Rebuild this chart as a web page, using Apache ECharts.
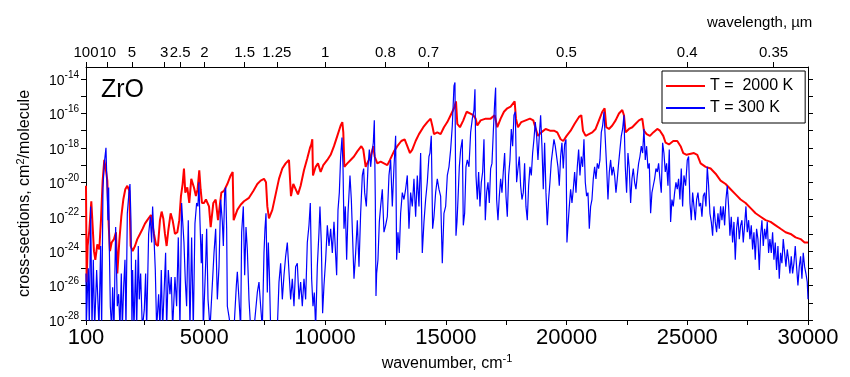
<!DOCTYPE html>
<html>
<head>
<meta charset="utf-8">
<title>ZrO cross-sections</title>
<script src="https://cdn.jsdelivr.net/npm/echarts@6/dist/echarts.min.js"></script>
<style>
  html, body { margin: 0; padding: 0; background: #fff; }
  #chart { width: 850px; height: 377px; }
</style>
</head>
<body>
<div id="chart"></div>
<script>
// wavenumber (cm-1) and log10 of cross-section (cm2/molecule), T = 2000 K
var wn2000 = [100,127,168,237,320,430,486,569,651,720,790,858,927,983,1040,1093,1162,1259,1341,1397,
  1480,1562,1645,1728,1811,1894,1949,2031,2128,2225,2335,2445,2542,2639,2721,2790,2846,2915,2997,3080,
  3163,3232,3301,3370,3439,3508,3605,3687,3784,3881,3963,4032,4101,4157,4212,4295,4377,4460,4516,4571,
  4653,4722,4791,4847,4902,4987,5067,5194,5263,5373,5470,5567,5705,5815,5953,6091,6174,6215,6367,6505,
  6643,6850,7029,7195,7333,7471,7554,7609,7678,7816,7954,8092,8230,8368,8506,8547,8589,8685,8782,8879,
  8989,9127,9265,9375,9431,9472,9500,9610,9707,9817,9927,10094,10232,10370,10508,10646,10715,10756,10798,10922,
  11060,11198,11336,11502,11584,11681,11778,11888,11998,12054,12164,12302,12440,12578,12688,12854,12992,13158,13296,13406,
  13516,13613,13751,13889,14068,14234,14372,14455,14510,14648,14786,14924,15063,15201,15339,15422,15477,15587,15725,15863,
  16001,16139,16236,16305,16443,16650,16857,17023,17133,17271,17409,17547,17685,17851,17906,17989,18127,18307,18486,18624,
  18707,18817,18955,19134,19314,19479,19617,19755,19865,20003,20170,20336,20515,20612,20681,20791,20929,21067,21205,21343,
  21481,21578,21647,21757,21895,22033,22171,22309,22378,22447,22585,22723,22861,22999,23137,23206,23316,23454,23592,23758,
  23868,24006,24103,24241,24420,24586,24724,24834,24972,25277,25415,25553,25760,25967,26174,26381,26588,26795,27002,27209,
  27416,27623,27830,28037,28244,28451,28658,28865,29072,29279,29486,29693,29858,30000];
var lg2000 = [-20.2,-25.8,-23.7,-22.8,-21.1,-24.0,-24.5,-23.6,-23.9,-22.2,-19.9,-18.7,-19.3,-19.9,-22.5,-24.0,-23.5,-23.3,-22.9,-25.3,
  -23.4,-22.0,-21.0,-20.4,-20.2,-20.5,-23.7,-24.0,-23.7,-23.3,-23.0,-22.7,-22.4,-22.2,-22.3,-21.9,-22.4,-23.0,-23.6,-23.7,
  -22.2,-21.7,-22.1,-23.0,-23.7,-22.8,-21.8,-22.2,-23.0,-22.9,-22.2,-20.8,-20.1,-19.2,-20.6,-20.3,-21.2,-19.8,-19.9,-20.3,
  -20.8,-20.4,-19.3,-20.4,-21.2,-21.2,-21.0,-21.4,-22.6,-21.2,-21.0,-22.2,-20.6,-20.5,-20.1,-19.6,-19.4,-22.2,-21.6,-21.3,
  -21.1,-20.9,-20.5,-20.1,-19.9,-19.8,-20.0,-21.4,-22.1,-21.6,-20.7,-19.8,-19.2,-18.9,-18.7,-18.6,-20.8,-20.1,-20.4,-20.7,
  -20.2,-19.3,-18.6,-18.0,-17.8,-17.5,-19.6,-19.1,-18.9,-19.4,-19.0,-18.7,-18.4,-17.9,-17.3,-16.7,-16.5,-17.1,-19.1,-18.9,
  -18.7,-18.5,-18.2,-17.9,-18.1,-19.1,-18.8,-18.5,-17.9,-18.5,-18.9,-18.8,-18.9,-19.0,-18.7,-18.2,-17.9,-17.6,-17.5,-17.9,
  -18.3,-18.1,-17.6,-17.2,-16.8,-16.5,-16.3,-16.8,-17.2,-17.1,-17.2,-16.8,-16.5,-16.1,-15.7,-15.3,-16.6,-16.8,-16.4,-15.9,
  -16.0,-16.1,-16.3,-16.7,-16.4,-16.3,-16.3,-16.1,-16.8,-16.3,-15.9,-15.7,-15.6,-15.3,-16.3,-16.8,-16.5,-16.4,-16.3,-16.4,
  -16.8,-17.3,-17.1,-16.9,-17.0,-17.0,-17.1,-17.5,-17.6,-17.3,-17.0,-16.6,-16.2,-16.1,-17.0,-17.3,-17.2,-17.1,-16.9,-16.4,
  -15.9,-15.7,-16.8,-16.9,-16.7,-16.4,-16.0,-15.8,-16.1,-17.1,-16.9,-16.8,-16.6,-16.4,-16.3,-17.0,-17.2,-17.3,-17.1,-16.9,
  -17.0,-17.3,-17.7,-17.8,-17.6,-17.6,-17.9,-18.3,-18.4,-18.3,-18.4,-18.9,-19.1,-19.2,-19.5,-19.9,-20.1,-20.4,-20.7,-21.0,
  -21.2,-21.5,-21.8,-22.0,-22.2,-22.3,-22.5,-22.7,-22.9,-23.0,-23.2,-23.3,-23.5,-23.5];

// T = 300 K
var wn300 = [100,110,155,196,237,293,348,403,458,541,582,637,706,748,803,858,927,969,1010,1038,
  1065,1107,1162,1203,1259,1328,1397,1452,1507,1562,1604,1659,1714,1755,1811,1880,1921,1962,2004,2031,
  2087,2156,2197,2266,2307,2363,2432,2514,2569,2611,2694,2763,2818,2859,2915,2970,3025,3108,3163,3218,
  3273,3342,3397,3439,3508,3577,3632,3687,3784,3853,3922,3991,4060,4101,4157,4212,4267,4336,4405,4474,
  4543,4612,4681,4736,4777,4819,4874,4915,4957,5056,5097,5153,5235,5291,5401,5470,5539,5608,5677,5746,
  5788,5843,5884,5925,5953,6022,6091,6229,6326,6367,6436,6505,6546,6615,6671,6726,6781,6850,6919,7057,
  7195,7264,7333,7402,7471,7512,7554,7609,7650,7692,7747,8023,8092,8161,8230,8299,8368,8437,8506,8575,
  8644,8713,8782,8851,8920,8989,9058,9127,9196,9265,9334,9389,9444,9500,9555,9610,9679,9748,9789,9844,
  9899,9955,10025,10094,10163,10232,10301,10370,10439,10480,10536,10591,10646,10701,10743,10784,10839,10894,10950,11032,
  11088,11143,11198,11267,11336,11405,11474,11543,11598,11640,11709,11778,11833,11888,11943,11998,12040,12081,12109,12136,
  12191,12247,12302,12371,12440,12509,12578,12647,12716,12785,12854,12923,12964,13019,13074,13130,13199,13268,13337,13406,
  13475,13544,13613,13682,13751,13820,13889,13958,14027,14096,14165,14234,14303,14344,14399,14455,14510,14579,14648,14717,
  14786,14855,14924,14994,15063,15132,15201,15270,15339,15380,15422,15463,15505,15560,15615,15684,15725,15781,15836,15891,
  15960,16029,16098,16167,16208,16250,16305,16360,16415,16471,16526,16581,16636,16691,16747,16802,16857,16912,16967,17023,
  17064,17105,17161,17216,17271,17326,17381,17437,17492,17547,17602,17657,17713,17768,17823,17878,17933,17989,18044,18099,
  18154,18209,18264,18320,18375,18430,18485,18541,18596,18651,18706,18761,18817,18872,18927,18982,19037,19093,19148,19203,
  19258,19313,19369,19424,19479,19534,19589,19645,19700,19755,19810,19865,19920,19976,20017,20060,20115,20170,20225,20280,
  20336,20391,20446,20501,20556,20612,20667,20722,20777,20832,20888,20943,20998,21053,21108,21164,21219,21274,21329,21384,
  21440,21495,21550,21605,21660,21716,21771,21826,21881,21936,21992,22047,22102,22157,22212,22268,22323,22378,22433,22488,
  22544,22599,22654,22709,22764,22820,22875,22930,22985,23040,23096,23151,23206,23261,23316,23372,23427,23482,23537,23592,
  23648,23703,23758,23813,23868,23924,23979,24034,24089,24144,24200,24255,24310,24365,24420,24476,24531,24586,24641,24696,
  24752,24807,24862,24932,25001,25056,25111,25167,25222,25277,25332,25387,25443,25498,25553,25608,25663,25719,25774,25829,
  25884,25939,25995,26050,26105,26160,26215,26271,26326,26381,26436,26491,26547,26602,26657,26712,26767,26822,26878,26933,
  26988,27043,27099,27154,27209,27264,27319,27374,27430,27485,27540,27595,27651,27706,27761,27816,27871,27927,27982,28037,
  28092,28147,28203,28258,28313,28368,28423,28479,28534,28589,28644,28699,28755,28810,28865,28920,28975,29031,29086,29141,
  29196,29251,29307,29362,29417,29472,29527,29583,29638,29693,29748,29803,29859,29914,29969,30000];
var lg300 = [-25.3,-28.5,-26.5,-25.0,-28.5,-21.4,-28.5,-24.5,-28.5,-25.1,-26.5,-28.5,-23.7,-28.5,-20.3,-18.9,-18.0,-18.1,-22.2,-20.3,
  -23.7,-27.2,-28.5,-26.1,-28.5,-22.6,-27.2,-26.5,-28.5,-25.3,-28.5,-26.1,-24.5,-28.5,-21.8,-20.6,-20.1,-22.2,-28.5,-25.1,
  -28.5,-24.5,-28.5,-23.7,-26.8,-25.3,-28.5,-27.4,-25.3,-28.5,-23.0,-22.0,-23.5,-21.4,-23.2,-25.1,-28.5,-26.5,-28.5,-25.1,
  -28.5,-26.1,-24.1,-28.5,-25.1,-26.5,-25.5,-28.5,-25.5,-27.2,-23.2,-28.5,-21.2,-22.2,-23.5,-25.7,-27.2,-22.2,-28.5,-23.2,
  -28.5,-22.4,-21.2,-21.4,-20.0,-22.2,-24.7,-23.0,-28.5,-24.7,-22.7,-26.8,-28.5,-28.5,-24.1,-22.7,-26.8,-24.9,-21.0,-22.3,
  -23.7,-20.6,-20.3,-22.7,-27.2,-27.8,-28.5,-28.5,-26.0,-25.2,-26.8,-28.5,-22.9,-21.4,-25.4,-22.6,-23.9,-26.8,-28.5,-28.5,
  -26.4,-25.8,-27.2,-28.5,-24.1,-22.7,-21.8,-26.4,-23.5,-25.2,-28.5,-28.5,-25.8,-24.7,-26.8,-25.4,-24.3,-23.5,-25.2,-26.8,
  -25.6,-27.2,-24.9,-24.7,-26.8,-25.8,-27.2,-25.6,-26.8,-23.5,-22.5,-21.2,-25.6,-27.2,-26.4,-28.5,-24.9,-22.9,-21.4,-23.5,
  -27.6,-26.0,-24.5,-22.5,-23.7,-22.7,-24.1,-22.3,-22.2,-25.4,-21.6,-20.6,-18.5,-17.4,-19.1,-22.7,-21.4,-24.5,-21.8,-19.6,
  -21.0,-23.3,-25.6,-24.1,-22.2,-24.9,-21.8,-19.6,-19.2,-20.6,-21.4,-19.1,-18.1,-19.1,-18.3,-17.7,-16.4,-21.0,-26.6,-25.3,
  -24.5,-22.3,-21.4,-20.4,-22.9,-22.5,-22.0,-19.6,-18.7,-21.4,-19.1,-17.3,-24.5,-22.9,-24.1,-21.8,-20.6,-21.0,-20.4,-19.6,
  -22.7,-20.6,-21.4,-19.8,-22.0,-19.6,-21.4,-18.3,-24.1,-22.3,-21.0,-20.0,-18.5,-18.3,-17.3,-22.7,-22.0,-20.6,-19.8,-20.4,
  -20.8,-24.7,-21.8,-21.4,-19.6,-19.1,-18.1,-16.7,-14.4,-14.2,-23.1,-22.3,-21.0,-19.1,-18.1,-17.5,-22.5,-21.8,-19.1,-18.7,
  -19.1,-17.1,-16.3,-15.8,-14.6,-19.6,-21.0,-19.4,-21.4,-20.0,-19.4,-17.5,-22.2,-20.6,-20.0,-21.2,-19.2,-18.9,-17.1,-15.4,
  -14.5,-21.0,-22.2,-20.8,-19.8,-20.6,-19.4,-18.3,-20.8,-22.0,-19.6,-18.7,-16.9,-17.9,-16.1,-15.9,-20.0,-19.2,-18.5,-20.2,
  -21.0,-20.6,-18.9,-21.4,-22.2,-20.2,-19.1,-19.6,-18.3,-17.5,-16.5,-17.3,-18.7,-17.3,-16.1,-17.9,-20.4,-17.7,-20.6,-22.5,
  -21.0,-20.0,-18.8,-18.7,-17.5,-17.9,-17.8,-19.1,-20.2,-18.5,-17.7,-19.2,-17.8,-17.5,-23.5,-22.5,-21.4,-20.4,-21.2,-20.4,
  -19.4,-20.6,-19.1,-18.1,-19.6,-18.5,-19.1,-17.5,-20.0,-20.8,-20.6,-22.7,-21.4,-21.0,-19.8,-19.1,-19.8,-18.9,-19.2,-18.7,
  -17.1,-16.7,-15.9,-17.5,-19.1,-21.0,-19.4,-18.7,-19.6,-19.1,-19.6,-20.6,-19.8,-18.9,-18.1,-17.3,-16.9,-16.1,-19.1,-20.6,
  -18.3,-19.2,-21.2,-19.8,-19.2,-20.0,-20.4,-19.6,-18.9,-18.5,-17.9,-18.3,-16.9,-18.7,-17.9,-19.2,-18.9,-21.8,-20.6,-20.2,
  -19.8,-19.2,-19.4,-18.9,-19.8,-20.6,-17.7,-18.3,-19.4,-18.9,-20.2,-18.1,-22.3,-21.0,-21.4,-20.6,-20.0,-20.4,-19.8,-21.0,
  -19.2,-21.4,-19.6,-20.2,-18.7,-18.5,-21.2,-22.2,-20.6,-21.4,-22.2,-21.0,-20.6,-21.4,-21.2,-22.0,-20.8,-20.6,-21.4,-19.1,
  -20.2,-21.8,-22.3,-23.1,-21.4,-22.3,-22.9,-21.8,-22.7,-21.4,-22.2,-21.4,-22.5,-21.0,-20.2,-21.4,-23.1,-22.0,-23.5,-22.3,
  -24.5,-22.7,-22.0,-23.3,-22.5,-22.2,-23.5,-22.5,-21.4,-22.9,-22.2,-23.3,-22.5,-23.9,-22.9,-24.5,-22.7,-23.3,-25.1,-23.1,
  -22.2,-23.7,-22.7,-23.3,-22.3,-24.1,-23.3,-24.1,-22.9,-24.5,-23.5,-25.1,-23.7,-25.6,-24.1,-24.7,-23.3,-24.1,-24.9,-23.9,
  -24.5,-25.3,-24.3,-25.3,-24.7,-23.7,-24.9,-26.0,-24.9,-24.3,-25.6,-24.1,-24.9,-25.3,-25.8,-26.8];

// axis ticks and labels
var bottomTicks = [100,2500,5000,7500,10000,12500,15000,17500,20000,22500,25000,27500,30000];
var bottomLabels = [100,5000,10000,15000,20000,25000,30000];
var wlLabels = ['100','10','5','3','2.5','2','1.5','1.25','1','0.8','0.7','0.5','0.4','0.35'];
var yTicks = [-28,-27,-26,-25,-24,-23,-22,-21,-20,-19,-18,-17,-16,-15,-14];
var yLabels = [-28,-26,-24,-22,-20,-18,-16,-14];

var wlPos = wlLabels.map(function (l) { return 10000 / parseFloat(l); });

var FONT = 'Liberation Sans, Arial, sans-serif';

var myChart = echarts.init(document.getElementById('chart'));

var option = {
    animation: false,
    backgroundColor: '#fff',
    grid: { left: 86, right: 42, top: 67, bottom: 57 },
    graphic: [
        { type: 'text', left: 101, top: 78, style: { text: 'ZrO', font: '25px ' + FONT, fill: '#000' } },
        { type: 'text', left: 707, top: 15, style: { text: 'wavelength, \u00b5m', font: '15px ' + FONT, fill: '#000' } }
    ],
    legend: {
        orient: 'vertical',
        left: 662, top: 71,
        padding: [6, 12, 6, 4],
        icon: 'rect',
        itemWidth: 39, itemHeight: 2, itemGap: 4,
        borderColor: '#000', borderWidth: 1, borderRadius: 0,
        textStyle: { fontSize: 16, color: '#000', fontFamily: FONT, lineHeight: 18 },
        data: ['T =  2000 K', 'T = 300 K']
    },
    xAxis: [{
        type: 'value', position: 'bottom', min: 100, max: 30000,
        axisLine: { onZero: false, lineStyle: { color: '#000', width: 1 } },
        axisTick: { customValues: bottomTicks, length: 5, lineStyle: { color: '#000' } },
        axisLabel: {
            customValues: bottomLabels, fontSize: 22, color: '#000', fontFamily: FONT, margin: 7,
            formatter: function (v) { return String(v); }
        },
        splitLine: { show: false },
        name: '{a|wavenumber, cm}{s|-1}',
        nameLocation: 'middle', nameGap: 28,
        nameTextStyle: {
            rich: {
                a: { fontSize: 16, color: '#000', fontFamily: FONT, lineHeight: 18, verticalAlign: 'bottom' },
                s: { fontSize: 11, color: '#000', fontFamily: FONT, lineHeight: 11, verticalAlign: 'top' }
            }
        }
    }, {
        type: 'value', position: 'top', min: 100, max: 30000,
        axisLine: { onZero: false, lineStyle: { color: '#000', width: 1 } },
        axisTick: { customValues: wlPos, length: 5, lineStyle: { color: '#000' } },
        axisLabel: {
            customValues: wlPos, fontSize: 15, color: '#000', fontFamily: FONT, margin: 7,
            formatter: function (v) {
                for (var i = 0; i < wlPos.length; i++) {
                    if (Math.abs(wlPos[i] - v) < 0.5) return wlLabels[i];
                }
                return '';
            }
        },
        splitLine: { show: false }
    }],
    yAxis: [{
        type: 'value', position: 'left', min: -28, max: -13.3,
        axisLine: { show: true, onZero: false, lineStyle: { color: '#000', width: 1 } },
        axisTick: { show: true, customValues: yTicks, length: 5, lineStyle: { color: '#000' } },
        axisLabel: {
            customValues: yLabels, margin: 7,
            formatter: function (v) { return '{b|10}{s|' + v + '}'; },
            rich: {
                b: { fontSize: 14, color: '#000', fontFamily: FONT, lineHeight: 18, verticalAlign: 'bottom' },
                s: { fontSize: 10, color: '#000', fontFamily: FONT, lineHeight: 10, verticalAlign: 'top' }
            }
        },
        splitLine: { show: false },
        name: '{a|cross-sections, cm}{s|2}{a|/molecule}',
        nameLocation: 'middle', nameGap: 53,
        nameTextStyle: {
            rich: {
                a: { fontSize: 16, color: '#000', fontFamily: FONT, lineHeight: 18, verticalAlign: 'bottom' },
                s: { fontSize: 11, color: '#000', fontFamily: FONT, lineHeight: 11, verticalAlign: 'top' }
            }
        }
    }, {
        type: 'value', position: 'right', min: -28, max: -13.3,
        axisLine: { show: true, onZero: false, lineStyle: { color: '#000', width: 1 } },
        axisTick: { show: true, customValues: yTicks, length: 5, lineStyle: { color: '#000' } },
        axisLabel: { show: false },
        splitLine: { show: false }
    }],
    series: [{
        name: 'T =  2000 K',
        type: 'line',
        xAxisIndex: 0, yAxisIndex: 0,
        symbol: 'none',
        clip: true,
        lineStyle: { color: '#ff0000', width: 2 },
        itemStyle: { color: '#ff0000' },
        data: wn2000.map(function (w, i) { return [w, lg2000[i]]; })
    }, {
        name: 'T = 300 K',
        type: 'line',
        xAxisIndex: 0, yAxisIndex: 0,
        symbol: 'none',
        clip: true,
        lineStyle: { color: '#0000ff', width: 1.2 },
        itemStyle: { color: '#0000ff' },
        data: wn300.map(function (w, i) { return [w, lg300[i]]; })
    }]
};

myChart.setOption(option);
</script>
</body>
</html>
